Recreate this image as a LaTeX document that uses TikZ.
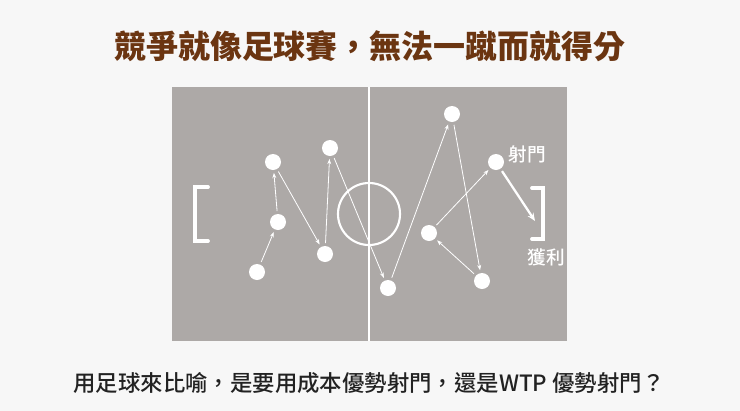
\documentclass[tikz,border=0pt]{standalone}
\usepackage{fontspec}
\setmainfont{Noto Sans CJK TC}
\newfontfamily\cjkmedium{Noto Sans CJK TC Medium}
\usetikzlibrary{arrows.meta}
\definecolor{pitch}{HTML}{ADA9A7}
\definecolor{paper}{HTML}{F7F7F7}
\definecolor{titlebrown}{HTML}{6B3511}
\definecolor{textdark}{HTML}{222222}
\tikzset{ p/.style = { circle
                       , fill         = white
                       , inner sep    = 0pt
                       , minimum size = 12pt
                       },
          pass/.style = { white
                        , line width = 0.6pt
                        , -{Stealth[length=4pt,width=3pt]}
                        , shorten <= 2pt
                        , shorten >= 2pt
                        },
          shot/.style = { white
                        , line width = 1.7pt
                        , -{Stealth[length=6pt,width=5pt]}
                        , shorten <= 2pt
                        },
          goal/.style = { white
                        , line width = 2.8pt
                        , line cap   = round
                        },
          lbl/.style  = { text = white
                        , font = \cjkmedium\fontsize{14}{16}\selectfont
                        }
        }

\begin{document}
\begin{tikzpicture}[x=0.75pt, y=-0.75pt]
    \useasboundingbox[fill=paper] (0,0) rectangle (740,411);
    % title and caption
    \node[text=titlebrown, font=\fontsize{24}{28}\bfseries] (title) at (370,46)
        {競爭就像足球賽，無法一蹴而就得分};
    \node[text=textdark, font=\cjkmedium\fontsize{16.8}{20}\selectfont] (caption) at (369,383)
        {用足球來比喻，是要用成本優勢射門，還是WTP 優勢射門？};
    % pitch
    \fill[pitch] (172,87) rectangle (567,341);
    \draw[white, line width=1.6pt] (369,87) -- (369,341);
    \draw[white, line width=1.6pt] (369,214) circle (31);
    \draw[goal] (208,187) -- (195,187) -- (195,241) -- (208,241);
    \draw[goal] (532,188) -- (543,188) -- (543,239) -- (532,239);
    % players
    \node[p] (p1)  at (257,272) {};
    \node[p] (p2)  at (278,222) {};
    \node[p] (p3)  at (273,162) {};
    \node[p] (p4)  at (325,254) {};
    \node[p] (p5)  at (330,148) {};
    \node[p] (p6)  at (388,288) {};
    \node[p] (p7)  at (452,114) {};
    \node[p] (p8)  at (482,281) {};
    \node[p] (p9)  at (429,233) {};
    \node[p] (p10) at (496,162) {};
    \coordinate (goalR) at (535,221);
    % passes
    \draw[pass] (p1) -- (p2);
    \draw[pass] (p2) -- (p3);
    \draw[pass] (p3) -- (p4);
    \draw[pass] (p4) -- (p5);
    \draw[pass] (p5) -- (p6);
    \draw[pass] (p6) -- (p7);
    \draw[pass] (p7) -- (p8);
    \draw[pass] (p8) -- (p9);
    \draw[pass] (p9) -- (p10);
    \draw[shot] (p10) -- (goalR);
    % labels
    \node[lbl] (shoot) at (527,154) {射門};
    \node[lbl] (win)   at (546,257) {獲利};
\end{tikzpicture}
\end{document}
